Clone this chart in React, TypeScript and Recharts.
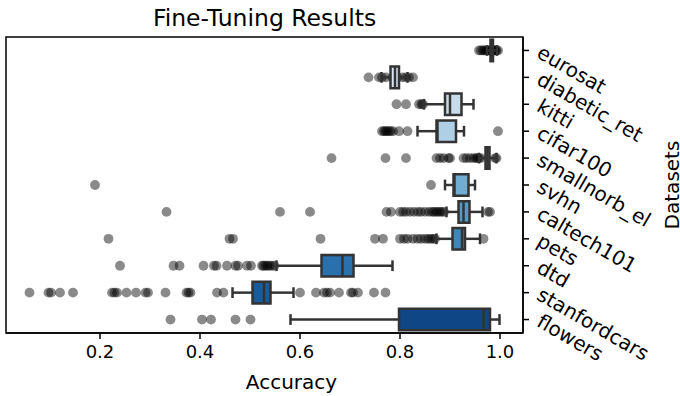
import {
  ScatterChart,
  Scatter,
  XAxis,
  YAxis,
  ReferenceArea,
  ReferenceLine
} from "recharts";

const FONT = '"DejaVu Sans", sans-serif';
const FS = 18;
const LABEL_FS = 20;

const datasets = [
  "eurosat", "diabetic_ret", "kitti", "cifar100", "smallnorb_el", "svhn",
  "caltech101", "pets", "dtd", "stanfordcars", "flowers"
];

// box statistics, same order as datasets
const q1 = [0.981, 0.781, 0.890, 0.873, 0.971, 0.907, 0.917, 0.905, 0.643, 0.505, 0.798];
const median = [0.984, 0.790, 0.900, 0.875, 0.975, 0.909, 0.927, 0.924, 0.685, 0.528, 0.967];
const q3 = [0.986, 0.798, 0.923, 0.912, 0.979, 0.937, 0.939, 0.930, 0.707, 0.541, 0.980];
const whiskerLow = [0.974, 0.763, 0.848, 0.835, 0.958, 0.890, 0.893, 0.873, 0.553, 0.465, 0.581];
const whiskerHigh = [0.994, 0.815, 0.947, 0.928, 0.993, 0.950, 0.965, 0.960, 0.785, 0.587, 0.999];

// individual runs (strip points)
const eurosat = [0.958, 0.962, 0.966, 0.969, 0.972, 0.975, 0.978, 0.980, 0.983, 0.985, 0.987, 0.989, 0.991, 0.993, 0.996];
const diabeticRet = [0.737, 0.758, 0.764, 0.772, 0.785, 0.790, 0.795, 0.805, 0.812, 0.818, 0.826];
const kitti = [0.793, 0.812, 0.838, 0.843, 0.846];
const cifar100 = [0.764, 0.768, 0.771, 0.774, 0.778, 0.781, 0.786, 0.798, 0.815, 0.996];
const smallnorbEl = [0.663, 0.771, 0.812, 0.873, 0.880, 0.887, 0.897, 0.900, 0.927, 0.933, 0.940, 0.947, 0.952, 0.955, 0.958, 0.962, 0.990, 0.993];
const svhn = [0.19, 0.862];
const caltech101 = [0.333, 0.560, 0.620, 0.773, 0.782, 0.800, 0.806, 0.812, 0.820, 0.828, 0.836, 0.842, 0.850, 0.858, 0.864, 0.868, 0.872, 0.876, 0.880, 0.884, 0.888, 0.976, 0.980];
const pets = [0.217, 0.459, 0.466, 0.641, 0.750, 0.766, 0.800, 0.808, 0.815, 0.826, 0.835, 0.842, 0.850, 0.856, 0.861, 0.866, 0.870, 0.967];
const dtd = [0.240, 0.347, 0.359, 0.407, 0.428, 0.433, 0.454, 0.471, 0.476, 0.494, 0.502, 0.524, 0.527, 0.531, 0.535, 0.539, 0.544, 0.549];
const stanfordcars = [0.059, 0.097, 0.102, 0.120, 0.146, 0.224, 0.229, 0.234, 0.253, 0.272, 0.291, 0.296, 0.331, 0.373, 0.377, 0.381, 0.434, 0.447, 0.600, 0.632, 0.648, 0.654, 0.660, 0.678, 0.702, 0.706, 0.716, 0.748, 0.771];
const flowers = [0.341, 0.404, 0.422, 0.471, 0.501];

const runs = [eurosat, diabeticRet, kitti, cifar100, smallnorbEl, svhn, caltech101, pets, dtd, stanfordcars, flowers];

const boxColors = ["#e7f0f9", "#d8e6f3", "#c8dbed", "#aecfe4", "#91c0d9", "#71add3", "#569ac5", "#3e86b9", "#2871ae", "#175c9d", "#0f4685"];

const xTicks = [0.2, 0.4, 0.6, 0.8, 1.0];
const yTicks = datasets.map((_, i) => i);

const points = runs.flatMap((vals, row) => vals.map((acc) => ({ acc, row })));

const LINE = "#333";
const LW = 2.5;

// rotated tick label, left-center anchored and turned 30 degrees down
const YTick = (props: any) => {
  const { x, y, payload } = props;
  const label = datasets[payload.value] ?? "";
  const ox = x + 8;
  return (
    <text
      x={ox}
      y={y}
      dominantBaseline="central"
      transform={`rotate(30 ${ox} ${y})`}
      fontSize={LABEL_FS}
      fontFamily={FONT}
      fill="#000"
    >
      {label}
    </text>
  );
};

const XLabel = (props: any) => {
  const vb = props.viewBox;
  return (
    <text x={vb.x + vb.width / 2 + 27} y={vb.y + vb.height - 7} textAnchor="middle" fontSize={LABEL_FS} fontFamily={FONT} fill="#000">
      Accuracy
    </text>
  );
};

const YLabel = (props: any) => {
  const vb = props.viewBox;
  const x = 679;
  const y = vb.y + vb.height / 2;
  return (
    <text x={x} y={y} transform={`rotate(-90 ${x} ${y})`} textAnchor="middle" fontSize={LABEL_FS} fontFamily={FONT} fill="#000">
      Datasets
    </text>
  );
};

const Dot = (props: any) => (
  <circle cx={props.cx} cy={props.cy} r={4.9} fill="#000" fillOpacity={0.46} />
);

export default function App() {
  return (
    <div style={{ position: "relative", width: 680, height: 396, background: "#fff" }}>
      <style>{`body{margin:0}`}</style>
      <div
        style={{
          position: "absolute",
          top: 0,
          left: 6,
          width: 517,
          textAlign: "center",
          fontFamily: FONT,
          fontSize: 23.5,
          lineHeight: "36px",
          color: "#000"
        }}
      >
        Fine-Tuning Results
      </div>
      <ScatterChart width={680} height={396} margin={{ top: 37, right: 0, bottom: 0, left: 6 }}>
        <XAxis
          type="number"
          dataKey="acc"
          domain={[0.012, 1.046]}
          ticks={xTicks}
          allowDataOverflow
          tickFormatter={(v: number) => v.toFixed(1)}
          height={63}
          tickSize={6}
          tickMargin={6}
          axisLine={{ stroke: "#000", strokeWidth: 1.5 }}
          tickLine={{ stroke: "#000", strokeWidth: 1.5 }}
          tick={{ fill: "#000", fontSize: FS, fontFamily: FONT }}
          label={<XLabel />}
        />
        <YAxis
          type="number"
          dataKey="row"
          orientation="right"
          reversed
          domain={[-0.5, 10.5]}
          ticks={yTicks}
          interval={0}
          allowDataOverflow
          width={157}
          tickSize={6}
          tickMargin={2}
          axisLine={{ stroke: "#000", strokeWidth: 1.5 }}
          tickLine={{ stroke: "#000", strokeWidth: 1.5 }}
          tick={<YTick />}
          label={<YLabel />}
        />
        <Scatter data={points} shape={<Dot />} isAnimationActive={false} />
        {datasets.map((name, i) => [
          <ReferenceLine
            key={`wl-${name}`}
            segment={[{ x: whiskerLow[i], y: i }, { x: q1[i], y: i }]}
            stroke={LINE}
            strokeWidth={LW}
            zIndex={700}
          />,
          <ReferenceLine
            key={`wh-${name}`}
            segment={[{ x: q3[i], y: i }, { x: whiskerHigh[i], y: i }]}
            stroke={LINE}
            strokeWidth={LW}
            zIndex={700}
          />,
          <ReferenceLine
            key={`cl-${name}`}
            segment={[{ x: whiskerLow[i], y: i - 0.2 }, { x: whiskerLow[i], y: i + 0.2 }]}
            stroke={LINE}
            strokeWidth={LW}
            zIndex={700}
          />,
          <ReferenceLine
            key={`ch-${name}`}
            segment={[{ x: whiskerHigh[i], y: i - 0.2 }, { x: whiskerHigh[i], y: i + 0.2 }]}
            stroke={LINE}
            strokeWidth={LW}
            zIndex={700}
          />,
          <ReferenceArea
            key={`box-${name}`}
            x1={q1[i]}
            x2={q3[i]}
            y1={i - 0.4}
            y2={i + 0.4}
            fill={boxColors[i]}
            fillOpacity={1}
            stroke={LINE}
            strokeWidth={LW}
            zIndex={710}
          />,
          <ReferenceLine
            key={`med-${name}`}
            segment={[{ x: median[i], y: i - 0.4 }, { x: median[i], y: i + 0.4 }]}
            stroke={LINE}
            strokeWidth={LW}
            zIndex={720}
          />
        ])}
        <ReferenceArea
          x1={0.012}
          x2={1.046}
          y1={-0.5}
          y2={10.5}
          fill="none"
          stroke="#000"
          strokeWidth={1.5}
          zIndex={800}
        />
      </ScatterChart>
    </div>
  );
}
